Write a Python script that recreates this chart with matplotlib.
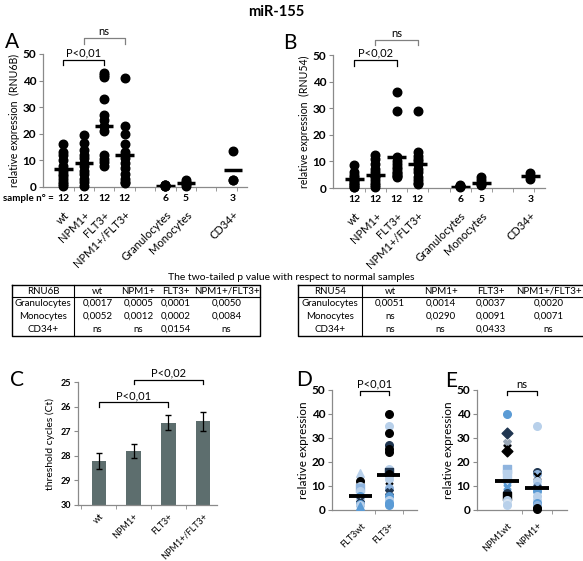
import numpy as np
import matplotlib
matplotlib.use("Agg")
import matplotlib.pyplot as plt
import matplotlib.transforms as mtransforms

plt.rcParams['font.family'] = ['Lato', 'DejaVu Sans']

W, H = 583, 561

# ---- panels A / B : dot plots ----
groups = ["wt", "NPM1+", "FLT3+", "NPM1+/FLT3+", "Granulocytes", "Monocytes", "CD34+"]
group_pos = [1, 2, 3, 4, 6, 7, 9.3]
sample_n = [12, 12, 12, 12, 6, 5, 3]

rnu6b = [
    [16, 13, 12, 10, 8, 6, 5, 4, 3, 2, 1, 0.5],
    [19.5, 16.5, 14, 12, 11, 9, 8, 6, 5, 3, 2, 0.5],
    [43, 41.5, 33, 27, 25, 23, 21, 12, 10.5, 9.5, 8, 42],
    [41, 23, 20, 16, 13, 11, 9, 7, 5, 3, 2, 1.5],
    [0.3, 0.5, 0.6, 0.8, 0.4, 0.7],
    [0.5, 1, 1.5, 2, 2.5],
    [13.5, 2.5, 2.8],
]
rnu6b_mean = [6.8, 9, 23, 12, 0.5, 1.5, 6.5]

rnu54 = [
    [8.5, 6, 5, 4, 3.5, 3, 2.5, 2, 1.5, 1, 0.5, 0.5],
    [12.5, 11, 9, 7, 6, 5, 4.5, 4, 3, 2, 1, 0.5],
    [36, 29, 11.5, 10, 9, 8, 7, 6, 5.5, 5, 4.5, 4],
    [29, 13.5, 12, 11, 10, 9, 7, 6, 4, 3, 2, 1.5],
    [0.5, 0.7, 0.9, 1, 0.6, 0.8],
    [4, 3, 2, 1.5, 1],
    [5.5, 4.5, 3.5],
]
rnu54_mean = [3.5, 5, 11.5, 9, 0.5, 2, 4.5]

# ---- tables ----
tab_cols = ["wt", "NPM1+", "FLT3+", "NPM1+/FLT3+"]
tab_rows = ["Granulocytes", "Monocytes", "CD34+"]
p_rnu6b = [["0,0017", "0,0005", "0,0001", "0,0050"],
           ["0,0052", "0,0012", "0,0002", "0,0084"],
           ["ns", "ns", "0,0154", "ns"]]
p_rnu54 = [["0,0051", "0,0014", "0,0037", "0,0020"],
           ["ns", "0,0290", "0,0091", "0,0071"],
           ["ns", "ns", "0,0433", "ns"]]

# ---- panel C : Ct bars ----
ct_groups = ["wt", "NPM1+", "FLT3+", "NPM1+/FLT3+"]
ct_mean = [28.2, 27.8, 26.65, 26.6]
ct_err = [0.32, 0.3, 0.31, 0.38]

# ---- panels D / E ----
flt3_groups = ["FLT3wt", "FLT3+"]
flt3wt = [15.5, 12, 10, 9, 8, 6, 5, 4, 3, 2.5, 2, 1.5]
flt3pos = [40, 35, 32, 27, 25.5, 24, 17, 16, 15, 13, 10, 9, 7.5, 6, 4, 3, 2]
flt3_mean = [6, 14.5]

npm1_groups = ["NPM1wt", "NPM1+"]
npm1wt = [40, 32, 28, 26, 24.5, 17, 15, 13, 10, 9, 7, 6, 5, 4, 3, 2]
npm1pos = [35, 16, 15, 14, 12, 10, 9, 8, 6, 4, 3, 2, 1, 0.5]
npm1_mean = [12, 9]

# marker styles for the mixed-symbol panels
LB, MB, DB, NV, K = "#b8d0ea", "#5b9bd5", "#8fb4de", "#1f3550", "black"
flt3wt_sty = [("^", LB), ("o", K), ("o", LB), ("s", DB), ("o", LB), ("o", MB),
              ("o", LB), ("x", NV), ("X", NV), ("o", MB), ("o", LB), ("^", MB)]
flt3pos_sty = [("o", K), ("o", LB), ("o", K), ("o", NV), ("o", K), ("o", K),
               ("o", LB), ("s", NV), ("o", K), ("o", LB), ("x", K), ("o", DB),
               ("X", NV), ("o", MB), ("o", LB), ("o", MB), ("o", MB)]
npm1wt_sty = [("o", MB), ("D", NV), ("X", "#9aa8b8"), ("x", K), ("D", K), ("s", DB),
              ("s", LB), ("o", LB), ("x", MB), ("x", MB), ("o", NV), ("s", K),
              ("o", K), ("o", LB), ("o", "#d5e3f2"), ("o", LB)]
npm1pos_sty = [("o", LB), ("o", NV), ("o", DB), ("x", K), ("o", LB), ("o", DB),
               ("x", NV), ("o", MB), ("o", LB), ("o", LB), ("o", MB), ("o", DB),
               ("o", K), ("o", K)]

fig = plt.figure(figsize=(W / 100, H / 100), dpi=100)


def px_axes(l, t, r, b):
    return fig.add_axes([l / W, 1 - b / H, (r - l) / W, (b - t) / H])


def style_axes(ax, ysize=8.5):
    for s in ["top", "right"]:
        ax.spines[s].set_visible(False)
    for s in ["left", "bottom"]:
        ax.spines[s].set_color("#8a8a8a")
        ax.spines[s].set_linewidth(0.9)
    ax.tick_params(axis="y", length=3, color="#8a8a8a", labelsize=ysize, pad=2)
    for t in ax.get_yticklabels():
        t.set_fontweight("bold")


def bracket(ax, x0, x1, y, yend, text, ty, color="black"):
    ax.plot([x0, x0, x1, x1], [yend, y, y, yend], color=color, lw=0.9, clip_on=False)
    ax.text((x0 + x1) / 2, ty, text, ha="center", va="center", fontsize=8)


def dot_panel(ax, values, means, ylabel):
    for x, vals, m in zip(group_pos, values, means):
        ax.scatter([x] * len(vals), vals, s=38, color="black", zorder=3, clip_on=False)
        ax.plot([x - 0.45, x + 0.45], [m, m], color="black", lw=2.5, zorder=4,
                solid_capstyle="butt")
    ax.set_xlim(0, 10)
    ax.set_ylim(0, 50)
    ax.set_yticks(range(0, 51, 10))
    style_axes(ax)
    ax.set_xticks(group_pos)
    ax.set_xticklabels(groups, rotation=45, ha="right", rotation_mode="anchor", fontsize=8)
    ax.set_xticks(np.arange(1.5, 10, 1), minor=True)
    ax.tick_params(axis="x", which="major", length=0, pad=16)
    ax.tick_params(axis="x", which="minor", length=3, color="#8a8a8a")
    ax.set_ylabel(ylabel, fontsize=7.6, labelpad=2)
    trans = mtransforms.blended_transform_factory(ax.transData, ax.transAxes)
    for x, n in zip(group_pos, sample_n):
        ax.text(x, -0.085, str(n), transform=trans, ha="center", va="center",
                fontsize=7.5, fontweight="bold")


# overlay for free text and tables
lay = fig.add_axes([0, 0, 1, 1])
lay.set_xlim(0, W)
lay.set_ylim(H, 0)
lay.axis("off")

lay.text(276, 12, "miR-155", ha="center", va="center", fontsize=10.5, fontweight="bold")
for lbl, (x, y) in zip("ABCDE", [(12, 42), (290, 43), (17, 380), (304, 380), (451, 381)]):
    lay.text(x, y, lbl, ha="center", va="center", fontsize=15)

# A
axA = px_axes(43, 54, 247, 187)
dot_panel(axA, rnu6b, rnu6b_mean, "relative expression  (RNU6B)")
bracket(axA, 1, 3, 47.7, 45.8, "P<0,01", 50.3)
bracket(axA, 2, 4, 56, 53.8, "ns", 58.3, color="#808080")
lay.text(3, 198, "sample n° =", ha="left", va="center", fontsize=7, fontweight="bold")

# B
axB = px_axes(333, 55, 545, 188)
dot_panel(axB, rnu54, rnu54_mean, "relative expression  (RNU54)")
bracket(axB, 1, 3, 48.1, 45.8, "P<0,02", 50.7)
bracket(axB, 2, 4, 55.6, 53.6, "ns", 58, color="#808080")

# tables
lay.text(291, 277, "The two-tailed p value with respect to normal samples",
         ha="center", va="center", fontsize=7.5)


def draw_table(x0, width, name, vals, col_frac, div_frac):
    top, hl, bot = 285, 297, 336
    lay.plot([x0, x0 + width, x0 + width, x0, x0], [top, top, bot, bot, top],
             color="black", lw=1.0, clip_on=False)
    lay.plot([x0, x0 + width], [hl, hl], color="black", lw=0.8)
    lay.plot([x0 + div_frac * width] * 2, [top, bot], color="black", lw=0.8)
    head = [name] + tab_cols
    for f, t in zip(col_frac, head):
        lay.text(x0 + f * width, (top + hl) / 2, t, ha="center", va="center", fontsize=7)
    rh = (bot - hl) / 3
    for i, (rn, row) in enumerate(zip(tab_rows, vals)):
        cy = hl + rh * (i + 0.5)
        for f, t in zip(col_frac, [rn] + row):
            lay.text(x0 + f * width, cy, t, ha="center", va="center", fontsize=7)


draw_table(12, 248, "RNU6B", p_rnu6b, [0.125, 0.345, 0.51, 0.66, 0.865], 0.25)
draw_table(298, 288, "RNU54", p_rnu54, [0.11, 0.32, 0.495, 0.67, 0.87], 0.223)

# C
axC = px_axes(78, 382, 217, 505)
xc = np.arange(len(ct_groups))
axC.bar(xc, np.array(ct_mean) - 30, bottom=30, width=0.42, color="#5d6e6e")
axC.errorbar(xc, ct_mean, yerr=ct_err, fmt="none", ecolor="black", capsize=2.5, lw=0.9)
axC.set_ylim(30, 25)
axC.set_xlim(-0.6, 3.4)
axC.set_yticks(range(25, 31))
style_axes(axC, ysize=6.5)
axC.set_xticks(xc)
axC.set_xticklabels(ct_groups, rotation=45, ha="right", rotation_mode="anchor", fontsize=6.5)
axC.set_xticks(np.arange(-0.5, 3.5, 1), minor=True)
axC.tick_params(axis="x", which="major", length=0, pad=5)
axC.tick_params(axis="x", which="minor", length=3, color="#8a8a8a")
axC.set_ylabel("threshold cycles (Ct)", fontsize=7.5, labelpad=4)
bracket(axC, 0, 2, 25.8, 26.0, "P<0,01", 25.55)
bracket(axC, 1, 3, 24.92, 25.08, "P<0,02", 24.62)


def mixed_panel(ax, series, styles, means, labels, btext):
    for x, vals, sty, m in zip([1, 2], series, styles, means):
        for v, (mk, c) in zip(vals, sty):
            if mk == "x":
                ax.scatter(x, v, marker=mk, s=25, color=c, linewidths=1.6, zorder=3, clip_on=False)
            else:
                ax.scatter(x, v, marker=mk, s=30, color=c, zorder=3, clip_on=False)
        ax.plot([x - 0.4, x + 0.4], [m, m], color="black", lw=2.8, zorder=4,
                solid_capstyle="butt")
    ax.set_xlim(0, 3)
    ax.set_ylim(0, 50)
    ax.set_yticks(range(0, 51, 10))
    style_axes(ax)
    ax.set_xticks([1, 2])
    ax.set_xticklabels(labels, rotation=45, ha="right", rotation_mode="anchor", fontsize=6.5)
    ax.set_xticks([1.5, 2.5], minor=True)
    ax.tick_params(axis="x", which="major", length=0, pad=8)
    ax.tick_params(axis="x", which="minor", length=3, color="#8a8a8a")
    ax.set_ylabel("relative expression", fontsize=8.5, labelpad=2)
    bracket(ax, 1, 2, 49.5, 48, btext, 52.5)


axD = px_axes(332, 390, 417, 510)
mixed_panel(axD, [flt3wt, flt3pos], [flt3wt_sty, flt3pos_sty], flt3_mean, flt3_groups, "P<0,01")
axE = px_axes(477, 390, 567, 510)
mixed_panel(axE, [npm1wt, npm1pos], [npm1wt_sty, npm1pos_sty], npm1_mean, npm1_groups, "ns")

fig.savefig("out.png", dpi=100)
